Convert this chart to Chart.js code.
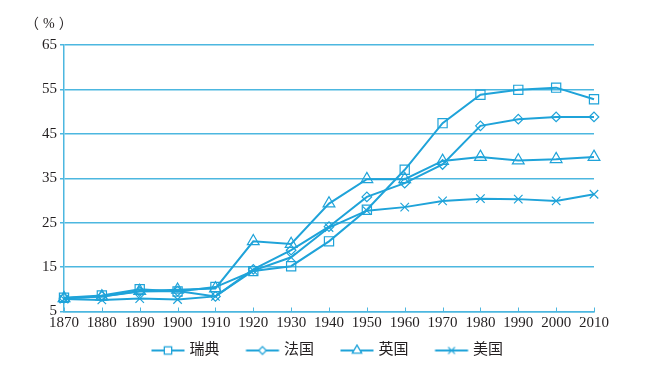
<!DOCTYPE html>
<html><head><meta charset="utf-8">
<script src="https://cdn.jsdelivr.net/npm/chart.js@4"></script>
<style>html,body{margin:0;padding:0;background:#fff;}#wrap{width:645px;height:380px;}</style>
</head><body><div id="wrap"><canvas id="c" width="645" height="380"></canvas></div>
<script>
const years = ['1870','1880','1890','1900','1910','1920','1930','1940','1950','1960','1970','1980','1990','2000','2010'];
const sweden = [8.1, 8.6, 10, 9.5, 10.5, 14.1, 15.2, 20.8, 27.9, 36.9, 47.4, 53.8, 54.9, 55.4, 52.8];
const france = [8, 8.4, 9.5, 9.6, 8.4, 14.5, 18.8, 24.1, 30.8, 33.9, 38.1, 46.8, 48.3, 48.8, 48.8];
const uk = [8, 8.4, 9.6, 9.9, 10.2, 20.8, 20.2, 29.3, 34.8, 34.8, 38.9, 39.8, 39, 39.3, 39.8];
const usa = [7.8, 7.6, 7.9, 7.7, 8.4, 14.2, 17.2, 23.9, 27.7, 28.5, 29.9, 30.4, 30.3, 29.9, 31.4];
const seriesNames = ['瑞典','法国','英国','美国'];
const yTicks = [5, 15, 25, 35, 45, 55, 65];
const unitLabel = '（%）';

const LINE = '#1fa3d9';
const GRID = '#4cb7e0';
const TEXT = '#231f20';
const styles = ['rect','rectRot','triangle','crossRot'];
const radii = [6.5, 4.8, 6.8, 6];

function legendIcon(style, r){
  const c = document.createElement('canvas');
  c.width = 68; c.height = 14;
  const ctx = c.getContext('2d');
  ctx.strokeStyle = LINE; ctx.lineWidth = 2;
  ctx.beginPath(); ctx.moveTo(27.5,7); ctx.lineTo(60.5,7); ctx.stroke();
  ctx.lineWidth = 1.3;
  ctx.fillStyle = '#fff';
  Chart.helpers.drawPoint(ctx, {pointStyle: style, radius: r*0.8, borderWidth: 1.3, rotation: 0}, 44, 7);
  return c;
}

const datasets = [sweden, france, uk, usa].map((d,i)=>({
  label: seriesNames[i],
  data: d,
  borderColor: LINE,
  backgroundColor: 'rgba(0,0,0,0)',
  borderWidth: 2,
  pointStyle: styles[i],
  pointRadius: radii[i],
  pointBorderWidth: 1.2,
  pointBorderColor: LINE,
  pointBackgroundColor: 'rgba(0,0,0,0)',
  tension: 0
}));

const extras = {
  id: 'extras',
  afterDraw(chart){
    const ctx = chart.ctx;
    const x = chart.scales.x, y = chart.scales.y;
    ctx.save();
    ctx.strokeStyle = GRID; ctx.lineWidth = 1;
    years.forEach((_,i)=>{
      const px = Math.round(x.getPixelForValue(i))+0.5;
      ctx.beginPath(); ctx.moveTo(px, y.bottom); ctx.lineTo(px, y.bottom-4); ctx.stroke();
    });
    ctx.fillStyle = TEXT;
    ctx.font = '14px "Liberation Serif", "Noto Sans CJK SC"';
    ctx.letterSpacing = '4px';
    ctx.textAlign = 'left'; ctx.textBaseline = 'middle';
    ctx.fillText(unitLabel, 25, 24);
    ctx.restore();
  }
};

new Chart(document.getElementById('c'), {
  type: 'line',
  data: { labels: years, datasets },
  plugins: [extras],
  options: {
    responsive: false,
    animation: false,
    devicePixelRatio: 1,
    layout: { padding: { left: 0, right: 8, top: 45, bottom: 12 } },
    plugins: {
      tooltip: { enabled: false },
      legend: {
        position: 'bottom',
        labels: {
          usePointStyle: true,
          pointStyleWidth: 48,
          color: TEXT,
          font: { family: '"Liberation Serif", "Noto Sans CJK SC"', size: 15 },
          padding: 9,
          generateLabels(chart){
            return chart.data.datasets.map((ds,i)=>({
              text: ds.label,
              pointStyle: legendIcon(styles[i], radii[i]),
              fillStyle: 'rgba(0,0,0,0)',
              strokeStyle: 'rgba(0,0,0,0)',
              lineWidth: 0,
              fontColor: TEXT,
              hidden: false,
              datasetIndex: i
            }));
          }
        }
      }
    },
    scales: {
      x: {
        type: 'category',
        offset: false,
        grid: { display: false, drawTicks: false },
        border: { display: true, color: GRID, width: 1.5 },
        ticks: { color: TEXT, font: { family: '"Liberation Serif"', size: 15 }, padding: 3, maxRotation: 0, autoSkip: false },
        afterFit(s){ s.height = 22.5; }
      },
      y: {
        min: 5, max: 65,
        afterBuildTicks(s){ s.ticks = yTicks.map(v=>({value:v})); },
        grid: { color: GRID, lineWidth: 1.5, tickLength: 4, drawTicks: true, tickColor: GRID },
        border: { display: true, color: GRID, width: 1.5 },
        ticks: { color: TEXT, font: { family: '"Liberation Serif"', size: 15 }, padding: 3 },
        afterFit(s){ s.width = 64; }
      },
      y2: {
        position: 'right',
        min: 5, max: 65,
        grid: { display: false, drawTicks: false },
        border: { display: false },
        ticks: { display: false },
        afterFit(s){ s.width = 43; }
      }
    }
  }
});
</script></body></html>
